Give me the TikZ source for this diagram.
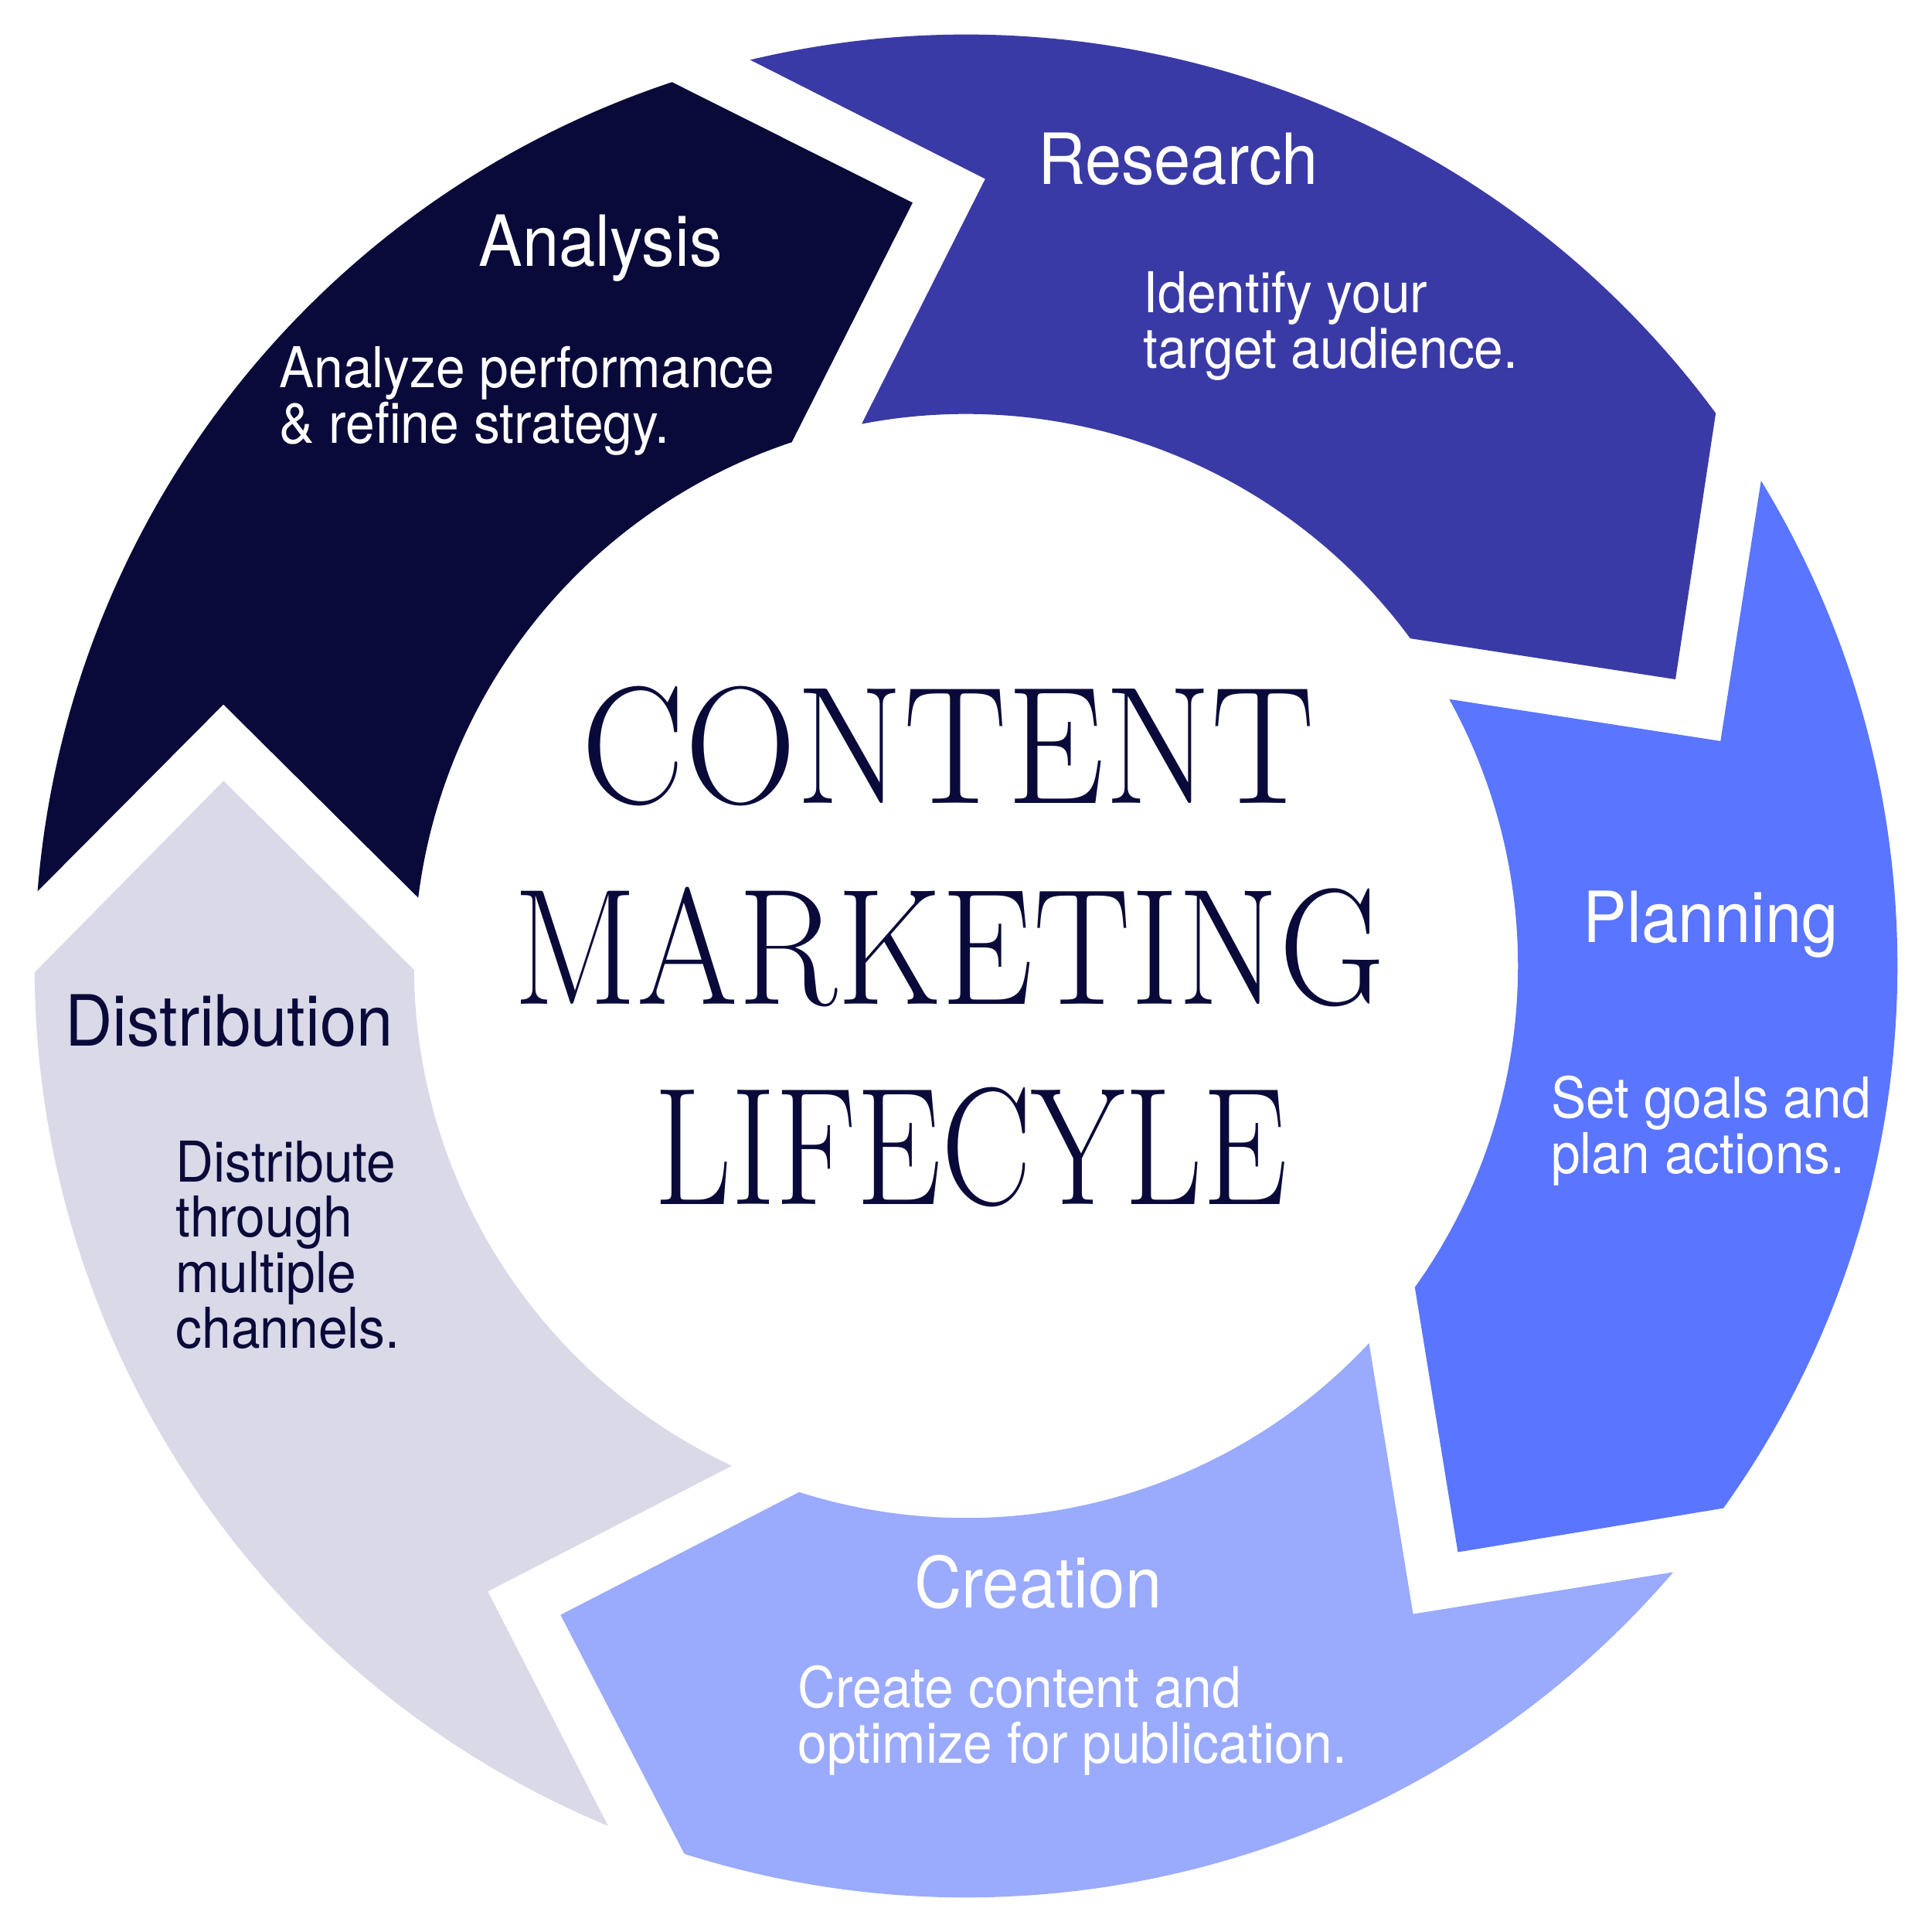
\documentclass[tikz,border=0pt]{standalone}
\usepackage{fontspec}
\usepackage{graphicx}
\newfontfamily\hv[FakeStretch=0.93]{TeX Gyre Heros}
\definecolor{cA}{HTML}{0A0A3A}
\definecolor{cR}{HTML}{3A3AA6}
\definecolor{cP}{HTML}{5A75FF}
\definecolor{cC}{HTML}{9AAAFD}
\definecolor{cD}{HTML}{D9D9E8}
\tikzset{
  segtitle/.style={font=\hv\fontsize{16.3}{19}\selectfont, inner sep=0pt, anchor=base},
  segbody/.style={font=\hv\fontsize{13}{12.8}\selectfont, inner sep=0pt, anchor=base west},
  bigtitle/.style={font=\fontsize{30}{36}\selectfont, text=cA, inner sep=0pt, anchor=base west}
}
\begin{document}
\begin{tikzpicture}
\useasboundingbox (0,0) rectangle (15.68,15.68);
\def\Ro{7.56}
\def\Ri{4.48}
\begin{scope}[shift={(7.84,7.84)}]
\foreach \h/\c in {108.4/cA, 36.4/cR, -35.6/cP, -107.6/cC, -179.6/cD} {
  \fill[\c] ({\h+67}:\Ro) arc[start angle=\h+67, end angle=\h, radius=\Ro]
    -- ({\h-14.4}:6.21) -- (\h:\Ri)
    arc[start angle=\h, end angle=\h+64.5, radius=\Ri]
    -- ({\h+52.2}:6.39) -- cycle;
}
\end{scope}
% titles
\node[segtitle, text=white] (anT) at (4.874,13.516) {Analysis};
\node[segtitle, text=white] (reT) at (9.562,14.185) {Research};
\node[segtitle, text=white] (plT) at (13.885,8.032) {Planning};
\node[segtitle, text=white] (crT) at (8.424,2.634) {Creation};
\node[segtitle, text=cA] (diT) at (1.86,7.19) {Distribution};
% bodies
\node[segbody, text=white] (anB) at (2.26,12.534) {\vtop{\hbox{Analyze performance}\hbox{\& refine strategy.}}};
\node[segbody, text=white] (reB) at (9.273,13.14) {\vtop{\hbox{Identify your}\hbox{target audience.}}};
\node[segbody, text=white] (plB) at (12.582,6.608) {\vtop{\hbox{Set goals and}\hbox{plan actions.}}};
\node[segbody, text=white] (crB) at (6.47,1.823) {\vtop{\hbox{Create content and}\hbox{optimize for publication.}}};
\node[segbody, text=cA] (diB) at (1.42,6.09) {\vtop{\hbox{Distribute}\hbox{through}\hbox{multiple}\hbox{channels.}}};
% centre title
\node[bigtitle] (t1) at (4.715,9.161) {\resizebox{5.95cm}{0.95cm}{CONTENT}};
\node[bigtitle] (t2) at (4.163,7.529) {\resizebox{7.07cm}{0.95cm}{MARKETING}};
\node[bigtitle] (t3) at (5.301,5.903) {\resizebox{5.14cm}{0.95cm}{LIFECYLE}};
\end{tikzpicture}
\end{document}
